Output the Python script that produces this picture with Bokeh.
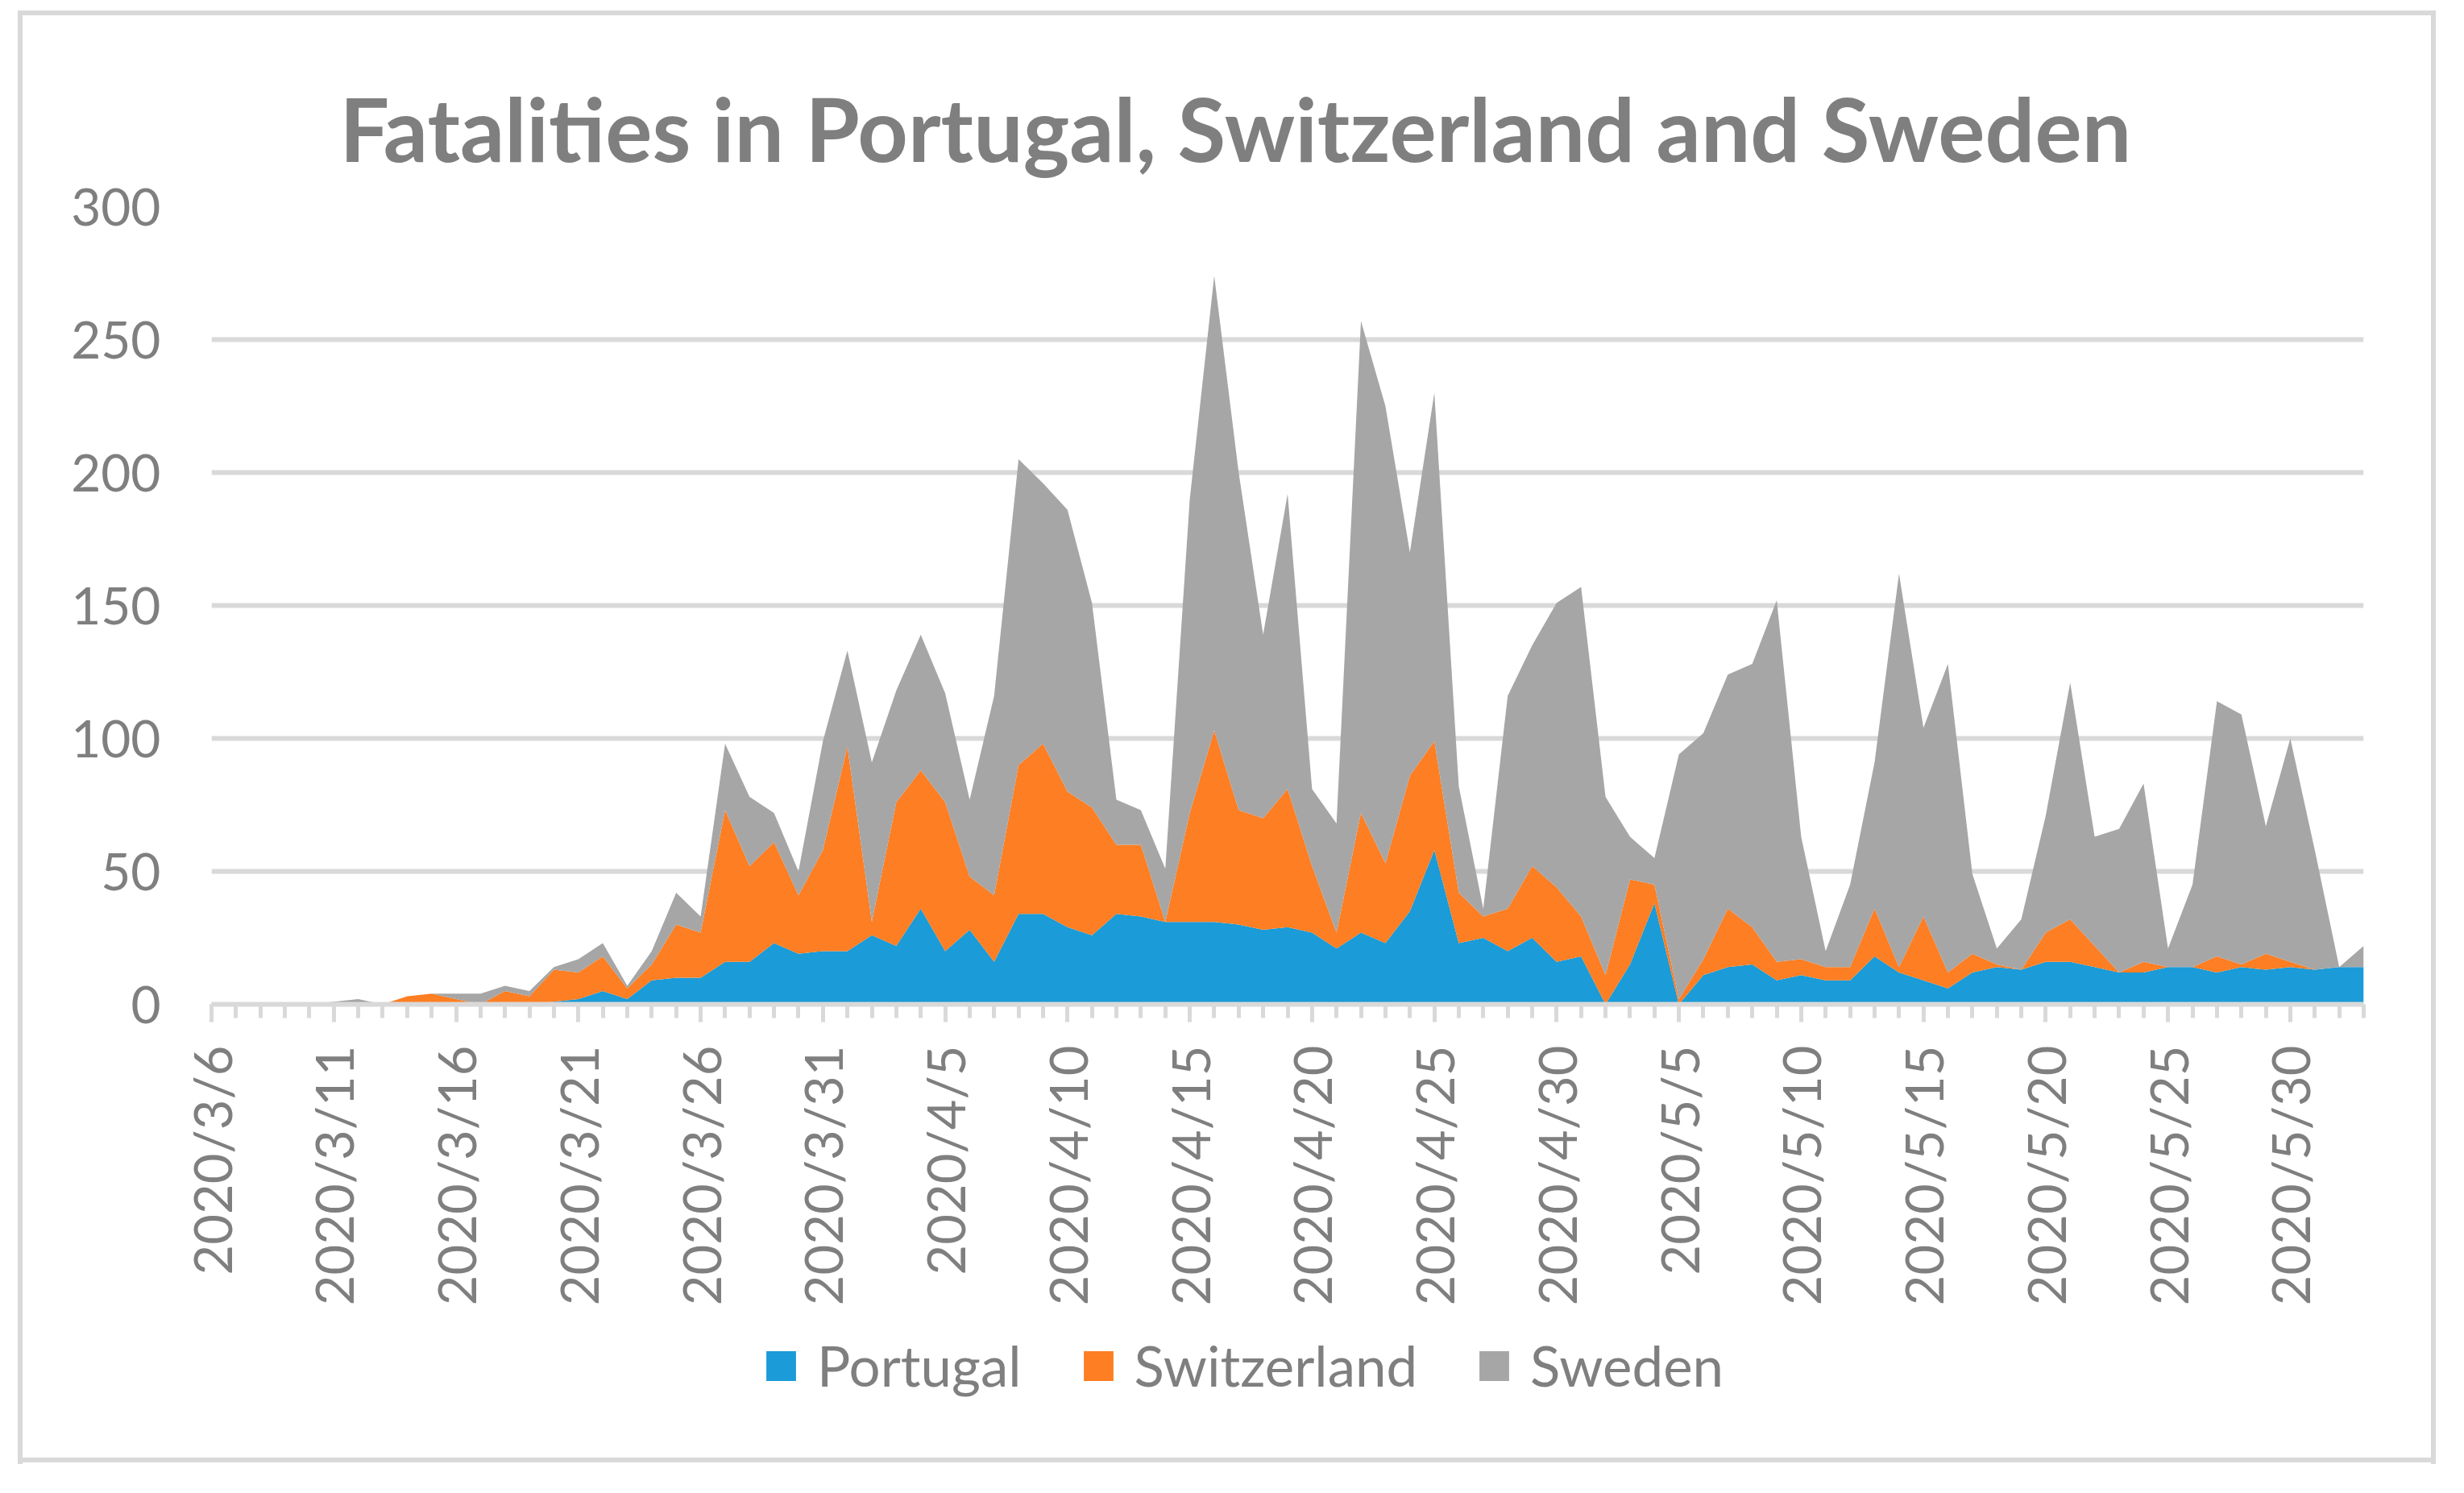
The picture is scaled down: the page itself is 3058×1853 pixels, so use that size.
import math
import pandas as pd
from bokeh.plotting import figure
from bokeh.layouts import column
from bokeh.models import (ColumnDataSource, Range1d, FixedTicker, Legend,
                          LegendItem)
from bokeh.embed import file_html
from bokeh.resources import INLINE

# ---------------- data ----------------
dates = [f"{d.year}/{d.month}/{d.day}" for d in pd.date_range("2020-03-06", "2020-06-02")]

portugal = [0, 0, 0, 0, 0, 0, 0, 0, 0, 0,
            0, 0, 0, 0, 1, 2, 5, 2, 9, 10,
            10, 16, 16, 23, 19, 20, 20, 26, 22, 36,
            20, 28, 16, 34, 34, 29, 26, 34, 33, 31,
            31, 31, 30, 28, 29, 27, 21, 27, 23, 35,
            58, 23, 25, 20, 25, 16, 18, 0, 15, 38,
            0, 11, 14, 15, 9, 11, 9, 9, 18, 12,
            9, 6, 12, 14, 13, 16, 16, 14, 12, 12,
            14, 14, 12, 14, 13, 14, 13, 14, 14]

switzerland = [0, 0, 0, 0, 0, 0, 0, 0, 3, 4,
               2, 0, 5, 3, 12, 10, 13, 4, 6, 20,
               17, 57, 36, 38, 22, 38, 77, 5, 54, 52,
               56, 20, 25, 56, 64, 51, 48, 26, 27, 0,
               41, 72, 43, 42, 52, 25, 6, 45, 30, 51,
               41, 19, 8, 16, 27, 28, 15, 11, 32, 7,
               2, 6, 22, 14, 7, 6, 5, 5, 18, 2,
               24, 6, 7, 1, 0, 11, 16, 8, 0, 4,
               0, 0, 6, 1, 6, 2, 0, 0, 0]

sweden = [0, 0, 0, 0, 0, 1, 2, 0, 0, 0,
          2, 4, 2, 2, 1, 5, 5, 1, 5, 12,
          6, 25, 26, 11, 9, 41, 36, 60, 42, 51,
          41, 29, 75, 115, 98, 106, 77, 17, 13, 20,
          118, 171, 127, 69, 111, 29, 41, 185, 172, 84,
          131, 40, 3, 80, 83, 107, 124, 67, 16, 10,
          92, 85, 88, 99, 136, 46, 6, 31, 55, 148,
          71, 116, 30, 6, 19, 44, 89, 41, 54, 67,
          7, 31, 96, 94, 48, 84, 45, 0, 8]

series = ["Portugal", "Switzerland", "Sweden"]
colors = ["#1B9BD7", "#FD7E23", "#A6A6A6"]
title_text = "Fatalities in Portugal, Switzerland and Sweden"
y_ticks = [0, 50, 100, 150, 200, 250, 300]
label_step = 5

# ---------------- styling ----------------
FONT = "Lato"
TXT = "#7F7F7F"
GRID = "#D9D9D9"
W = 3042
HA, HB = 1626, 211

x = list(range(len(dates)))
source = ColumnDataSource(dict(x=x, Portugal=portugal, Switzerland=switzerland, Sweden=sweden))

# ---------------- main chart ----------------
p = figure(width=W, height=HA, output_backend="svg", toolbar_location=None,
           x_range=Range1d(0, len(dates) - 1), y_range=Range1d(0, 300),
           min_border_left=262, min_border_right=109,
           min_border_top=256, min_border_bottom=HA - 1246)
p.outline_line_color = None
p.background_fill_color = None
p.border_fill_color = None

renderers = p.varea_stack(series, x="x", color=colors, source=source)

p.title.text = title_text
p.title.align = "left"
p.title.offset = 159
p.title.standoff = 65
p.title.text_font = FONT
p.title.text_font_size = "109px"
p.title.text_font_style = "bold"
p.title.text_color = TXT

p.xgrid.grid_line_color = None
p.ygrid.grid_line_color = GRID
p.ygrid.grid_line_width = 6
p.ygrid.ticker = FixedTicker(ticks=y_ticks)

p.yaxis.ticker = FixedTicker(ticks=y_ticks)
p.yaxis.axis_line_color = None
p.yaxis.major_tick_line_color = None
p.yaxis.minor_tick_line_color = None
p.yaxis.major_tick_out = 0
p.yaxis.major_tick_in = 0
p.yaxis.minor_tick_out = 0
p.yaxis.major_label_standoff = 63
p.yaxis.major_label_text_font = FONT
p.yaxis.major_label_text_font_size = "64px"
p.yaxis.major_label_text_color = TXT

major = list(range(0, len(dates), label_step))
p.xaxis.ticker = FixedTicker(ticks=major, minor_ticks=x)
p.xaxis.major_label_overrides = {i: dates[i] for i in major}
p.xaxis.major_label_orientation = math.pi / 2
p.xaxis.axis_line_color = GRID
p.xaxis.axis_line_width = 6
p.xaxis.major_tick_line_color = GRID
p.xaxis.major_tick_line_width = 5
p.xaxis.major_tick_out = 22
p.xaxis.major_tick_in = 0
p.xaxis.minor_tick_line_color = GRID
p.xaxis.minor_tick_line_width = 5
p.xaxis.minor_tick_out = 17
p.xaxis.minor_tick_in = 0
p.xaxis.major_label_standoff = 29
p.xaxis.major_label_text_font = FONT
p.xaxis.major_label_text_font_size = "65px"
p.xaxis.major_label_text_color = TXT

# ---------------- legend strip ----------------
q = figure(width=W, height=HB, output_backend="svg", toolbar_location=None,
           title=None, x_axis_type=None, y_axis_type=None,
           x_range=Range1d(0, 1), y_range=Range1d(0, 1),
           min_border_left=0, min_border_right=0, min_border_top=0, min_border_bottom=0)
q.outline_line_color = None
q.background_fill_color = None
q.border_fill_color = None
q.grid.visible = False
# swatch-only renderers, placed outside the visible range
dummy = [q.varea(x=[5, 6], y1=[5, 5], y2=[6, 6], color=c) for c in colors]

items = [LegendItem(label=s, renderers=[r]) for s, r in zip(series, dummy)]
legend = Legend(items=items, orientation="horizontal", location=(684, 101),
                glyph_width=46, glyph_height=46, label_standoff=22, spacing=72,
                padding=0, margin=0, border_line_color=None,
                background_fill_alpha=0, label_text_font=FONT,
                label_text_font_size="69px", label_text_color=TXT)
q.add_layout(legend)

# ---------------- outer chart border (CSS background lines) ----------------
g = "linear-gradient(#D9D9D9,#D9D9D9)"
layout = column(p, q, spacing=0)
layout.styles = {
    "background-color": "white",
    "background-image": ", ".join([g] * 4),
    "background-repeat": "no-repeat",
    "background-size": "3001px 6px, 3001px 6px, 6px 1804px, 6px 1804px",
    "background-position": "22px 13px, 22px 1809px, 22px 13px, 3017px 13px",
}

open("out.html", "w").write(file_html(layout, INLINE))
